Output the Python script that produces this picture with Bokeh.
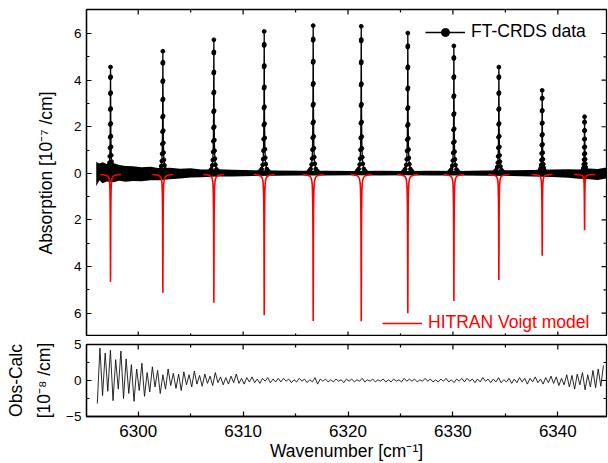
import math
from bokeh.plotting import figure
from bokeh.models import (Range1d, LinearAxis, FixedTicker, CustomJSTickFormatter,
                          Legend, LegendItem)
from bokeh.layouts import column
from bokeh.embed import file_html
from bokeh.resources import INLINE

FONT = "Liberation Sans"

# ---------------- data ----------------
line_centers = [6297.36, 6302.35, 6307.21, 6312.01, 6316.68, 6321.26,
                6325.70, 6330.09, 6334.38, 6338.51, 6342.55]
obs_peaks = [4.56, 5.24, 5.73, 6.09, 6.34, 6.31, 6.02, 5.47, 4.56, 3.56, 2.43]
model_peaks = [4.60, 5.07, 5.50, 6.04, 6.28, 6.30, 5.95, 5.43, 4.53, 3.48, 2.39]

# observed line profile (offset from centre, fraction of peak height)
obs_off = [-0.40, -0.25, -0.15, -0.10, -0.07, -0.05, -0.035, -0.025, -0.018, -0.012, -0.006, 0.0,
           0.006, 0.012, 0.018, 0.025, 0.035, 0.05, 0.07, 0.10, 0.15, 0.25, 0.40]
obs_shape = [0.015, 0.03, 0.06, 0.10, 0.16, 0.24, 0.34, 0.46, 0.60, 0.75, 0.90, 1.0,
             0.91, 0.76, 0.61, 0.47, 0.35, 0.25, 0.17, 0.11, 0.065, 0.03, 0.015]

# model line profile (drawn inverted)
mod_off = [-1.0, -0.6, -0.35, -0.22, -0.15, -0.1, -0.07, -0.05, -0.035, -0.022, -0.012, 0.0,
           0.012, 0.022, 0.035, 0.05, 0.07, 0.1, 0.15, 0.22, 0.35, 0.6, 1.0]
mod_shape = [0.0, 0.004, 0.01, 0.02, 0.035, 0.06, 0.1, 0.16, 0.26, 0.42, 0.7, 1.0,
             0.7, 0.42, 0.26, 0.16, 0.1, 0.06, 0.035, 0.02, 0.01, 0.004, 0.0]
model_base = -0.05

# noisy baseline band of the measured spectrum
band_x = [6296.0, 6296.3, 6296.6, 6297.0, 6297.6, 6298.2, 6298.8, 6299.5, 6300.3, 6301.2,
          6302.0, 6303.0, 6304.0, 6305.0, 6306.0, 6307.5, 6309.0, 6311.0, 6313.0, 6315.5,
          6318.0, 6320.5, 6323.0, 6325.5, 6328.0, 6330.5, 6333.0, 6335.5, 6337.5, 6339.5,
          6341.0, 6342.0, 6343.0, 6343.8, 6344.6]
band_hi = [0.50, 0.42, 0.48, 0.40, 0.44, 0.36, 0.32, 0.30, 0.26, 0.28,
           0.22, 0.24, 0.20, 0.22, 0.17, 0.18, 0.15, 0.13, 0.12, 0.11,
           0.11, 0.10, 0.11, 0.10, 0.11, 0.10, 0.12, 0.13, 0.14, 0.16,
           0.18, 0.17, 0.21, 0.19, 0.25]
band_lo = [-0.55, -0.30, -0.42, -0.35, -0.38, -0.32, -0.36, -0.33, -0.34, -0.30,
           -0.30, -0.25, -0.22, -0.18, -0.17, -0.14, -0.13, -0.11, -0.10, -0.09,
           -0.09, -0.08, -0.09, -0.08, -0.09, -0.09, -0.10, -0.11, -0.13, -0.16,
           -0.19, -0.23, -0.25, -0.29, -0.22]

# residuals (Obs-Calc), sampled every 0.25 cm-1 from 6296.1
res_start = 6296.1
res_step = 0.25
res_vals = [
    -3.2, 4.5, -2.1, 3.8, -1.5, 4.2, -2.8, 2.9, -1.2, 4.1,
    -2.5, 3.0, -1.8, 2.2, -2.9, 1.6, -1.4, 2.4, -2.2, 1.1,
    -1.6, 1.9, -0.9, 1.4, -1.8, 0.8, -1.2, 1.6, -0.7, 1.0,
    -1.1, 0.9, -1.4, 1.2, -0.6, 0.8, -0.9, 1.3, -0.5, 0.7,
    -0.8, 0.9, -0.4, 0.6, -0.7, 1.1, -0.3, 0.5, -0.6, 0.4,
    -0.5, 0.6, -0.3, 0.9, -0.4, 0.3, -0.5, 0.4, -0.2, 0.5,
    -0.3, 0.2, -0.4, 0.3, -0.1, 0.4, -0.3, 0.2, -0.2, 0.3,
    -0.2, 0.3, -0.1, 0.2, -0.3, 0.1, -0.2, 0.3, -0.1, 0.2,
    -0.3, 0.1, -0.2, 0.4, -0.5, 0.2, -0.1, 0.2, -0.2, 0.1,
    -0.2, 0.2, -0.1, 0.1, -0.3, 0.2, -0.1, 0.2, -0.2, 0.1,
    -0.1, 0.3, -0.2, 0.1, -0.1, 0.2, -0.2, 0.1, -0.1, 0.2,
    -0.2, 0.1, -0.2, 0.2, -0.1, 0.1, -0.2, 0.3, -0.1, 0.2,
    -0.1, 0.2, -0.2, 0.1, -0.1, 0.3, -0.1, 0.2, -0.2, 0.1,
    -0.2, 0.2, -0.1, 0.3, -0.2, 0.1, -0.3, 0.2, -0.1, 0.3,
    -0.2, 0.3, -0.1, 0.2, -0.3, 0.2, -0.2, 0.4, -0.1, 0.2,
    -0.3, 0.2, -0.2, 0.4, -0.3, 0.1, -0.2, 0.3, -0.4, 0.2,
    -0.3, 0.4, -0.2, 0.3, -0.5, 0.3, -0.2, 0.5, -0.3, 0.2,
    -0.5, 0.4, -0.3, 0.6, -0.4, 0.5, -0.7, 0.3, -0.6, 0.8,
    -0.9, 0.7, -1.2, 0.9, -0.6, 1.1, -1.3, 0.8, -0.9, 1.4,
    -1.0, 1.6, -0.8, 2.1,
]

# tick values
x_major_ticks = [6300, 6310, 6320, 6330, 6340]
x_minor_ticks = [6305, 6315, 6325, 6335]
abs_major_ticks = [-6, -4, -2, 0, 2, 4, 6]
abs_minor_ticks = [-5, -3, -1, 1, 3, 5]
res_major_ticks = [-5, 0, 5]
res_minor_ticks = [-2.5, 2.5]

x_start, x_end = 6295.07, 6344.64
abs_lo, abs_hi = -7.0, 7.03
res_lo, res_hi = -5.0, 5.0


# ---------------- helpers ----------------
def make_axis(major, minor, formatter=None, label_size="13.5px",
              label_standoff=5, title=None, title_standoff=5):
    ax = LinearAxis(ticker=FixedTicker(ticks=major, minor_ticks=minor))
    if formatter is not None:
        ax.formatter = formatter
    ax.major_tick_in = 5
    ax.major_tick_out = 0
    ax.minor_tick_in = 3
    ax.minor_tick_out = 0
    ax.axis_line_color = "black"
    ax.axis_line_width = 1.3
    ax.major_tick_line_width = 1.2
    ax.minor_tick_line_width = 1.2
    ax.major_label_text_font = FONT
    ax.major_label_text_color = "black"
    ax.major_label_text_font_size = label_size
    ax.major_label_standoff = label_standoff
    if title is not None:
        ax.axis_label = title
        ax.axis_label_text_font = FONT
        ax.axis_label_text_font_size = "17.5px"
        ax.axis_label_text_font_style = "normal"
        ax.axis_label_text_color = "black"
        ax.axis_label_standoff = title_standoff
    return ax


def edge_ticks(p, values, at, vertical):
    """inward tick marks on an unlabelled frame edge (half of each dash is clipped by the frame)"""
    for vals, size in ((values[0], 10), (values[1], 6)):
        if vertical:
            p.scatter(x=vals, y=[at] * len(vals), marker="dash", size=size,
                      angle=math.pi / 2, line_color="black", line_width=1.2)
        else:
            p.scatter(x=[at] * len(vals), y=vals, marker="dash", size=size,
                      line_color="black", line_width=1.2)


# ---------------- top panel ----------------
p1 = figure(width=608, height=336, x_range=Range1d(x_start, x_end),
            y_range=Range1d(abs_lo, abs_hi), x_axis_type=None, y_axis_type=None,
            output_backend="svg", toolbar_location=None,
            min_border_left=86, min_border_right=2, min_border_top=9, min_border_bottom=0)
p1.outline_line_color = "black"
p1.outline_line_width = 1.3
p1.background_fill_color = "white"
p1.border_fill_color = "white"

abs_fmt = CustomJSTickFormatter(code="return Math.abs(tick).toFixed(0);")
p1.add_layout(make_axis(abs_major_ticks, abs_minor_ticks, abs_fmt,
                        title="Absorption [10\u207b\u2077 /cm]", title_standoff=15), "left")

# baseline band
p1.varea(x=band_x, y1=band_lo, y2=band_hi, fill_color="black")

obs_xs = [[c + o for o in obs_off] for c in line_centers]
obs_ys = [[h * s for s in obs_shape] for h in obs_peaks]
obs_line = p1.multi_line(obs_xs, obs_ys, line_color="black", line_width=1.3)
obs_pts = p1.scatter([x for xs in obs_xs for x in xs], [y for ys in obs_ys for y in ys],
                     size=3.8, marker="circle", fill_color="black", line_color="black")

mod_xs = [[c + o for o in mod_off] for c in line_centers]
mod_ys = [[model_base - d * s for s in mod_shape] for d in model_peaks]
mod_line = p1.multi_line(mod_xs, mod_ys, line_color="#ff0000", line_width=1.6)

edge_ticks(p1, (x_major_ticks, x_minor_ticks), abs_hi, True)
edge_ticks(p1, (x_major_ticks, x_minor_ticks), abs_lo, True)
edge_ticks(p1, (abs_major_ticks, abs_minor_ticks), x_end, False)

leg1 = Legend(items=[LegendItem(label="FT-CRDS data", renderers=[obs_line, obs_pts])],
              location=(339, 294))
leg2 = Legend(items=[LegendItem(label="HITRAN Voigt model", renderers=[mod_line])],
              location=(296, 3))
for lg, col in ((leg1, "black"), (leg2, "#ff0000")):
    lg.background_fill_alpha = 0
    lg.border_line_color = None
    lg.padding = 0
    lg.margin = 0
    lg.spacing = 0
    lg.glyph_width = 40
    lg.glyph_height = 20
    lg.label_height = 20
    lg.label_standoff = 6
    lg.label_text_font = FONT
    lg.label_text_font_size = "17.5px"
    lg.label_text_color = col
    p1.add_layout(lg)

# ---------------- bottom panel ----------------
p2 = figure(width=608, height=127, x_range=p1.x_range, y_range=Range1d(res_lo, res_hi),
            x_axis_type=None, y_axis_type=None,
            output_backend="svg", toolbar_location=None,
            min_border_left=86, min_border_right=2, min_border_top=8, min_border_bottom=47)
p2.outline_line_color = "black"
p2.outline_line_width = 1.3
p2.background_fill_color = "white"
p2.border_fill_color = "white"

p2.add_layout(make_axis(res_major_ticks, res_minor_ticks,
                        title="[10\u207b\u2078 /cm]", title_standoff=9), "left")
outer = LinearAxis(ticker=FixedTicker(ticks=[]), axis_line_color=None,
                   major_tick_out=0, major_tick_in=0, minor_tick_out=0, minor_tick_in=0,
                   major_label_standoff=0,
                   axis_label="Obs-Calc", axis_label_text_font=FONT,
                   axis_label_text_font_size="17.5px", axis_label_text_font_style="normal",
                   axis_label_text_color="black", axis_label_standoff=6)
p2.add_layout(outer, "left")
p2.add_layout(make_axis(x_major_ticks, x_minor_ticks, label_size="17px", label_standoff=8,
                        title="Wavenumber [cm\u207b\u00b9]", title_standoff=1), "below")

res_x = [res_start + res_step * i for i in range(len(res_vals))]
p2.line(res_x, res_vals, line_color="#111111", line_width=0.9)

edge_ticks(p2, (x_major_ticks, x_minor_ticks), res_hi, True)
edge_ticks(p2, (res_major_ticks, res_minor_ticks), x_end, False)

layout = column(p1, p2, spacing=0)
open("out.html", "w").write(file_html(layout, INLINE))
